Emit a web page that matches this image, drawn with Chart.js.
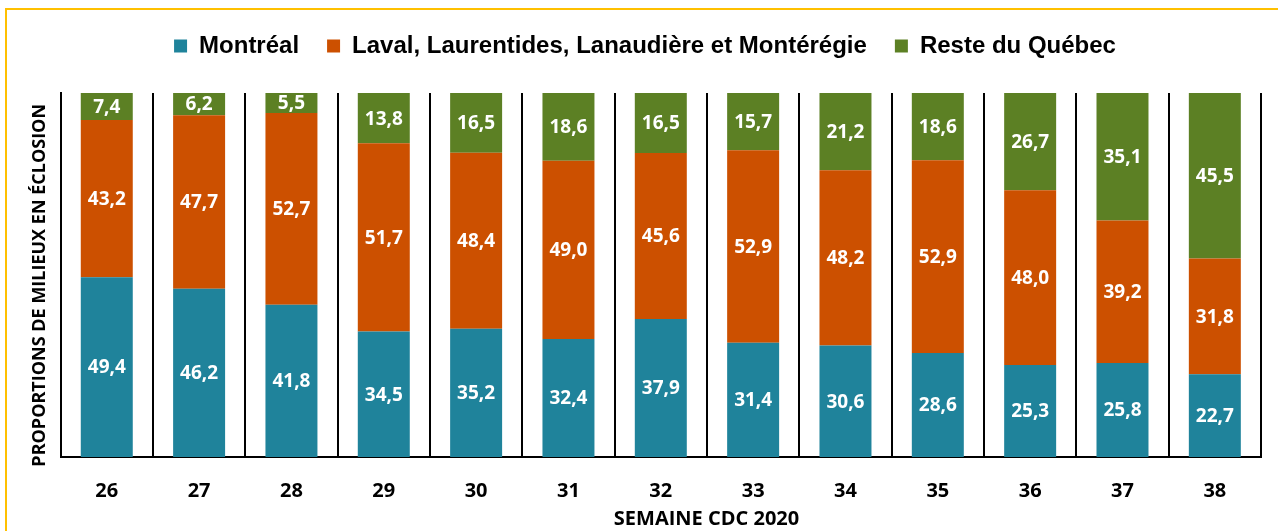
<!DOCTYPE html>
<html>
<head>
<meta charset="utf-8">
<script src="https://cdn.jsdelivr.net/npm/chart.js@4"></script>
<style>
  html, body { margin: 0; padding: 0; background: #fff; overflow: hidden; }
  #wrap { position: relative; width: 1278px; height: 531px; }
  #frame { position: absolute; left: 5px; top: 8px; width: 1400px; height: 700px;
           border: 2px solid #FFC000; pointer-events: none; }
</style>
</head>
<body>
<div id="wrap">
  <canvas id="chart" width="1278" height="531"></canvas>
  <div id="frame"></div>
</div>
<script>
var weeks = ["26", "27", "28", "29", "30", "31", "32", "33", "34", "35", "36", "37", "38"];
var montreal = [49.4, 46.2, 41.8, 34.5, 35.2, 32.4, 37.9, 31.4, 30.6, 28.6, 25.3, 25.8, 22.7];
var laval = [43.2, 47.7, 52.7, 51.7, 48.4, 49.0, 45.6, 52.9, 48.2, 52.9, 48.0, 39.2, 31.8];
var reste = [7.4, 6.2, 5.5, 13.8, 16.5, 18.6, 16.5, 15.7, 21.2, 18.6, 26.7, 35.1, 45.5];
var seriesNames = ["Montréal", "Laval, Laurentides, Lanaudière et Montérégie", "Reste du Québec"];
var seriesColors = ["#1F839B", "#CC5000", "#5C8024"];

// white numbers in the middle of every segment, comma decimal
var segmentLabels = {
    id: "segmentLabels",
    afterDatasetsDraw: function (chart) {
        var ctx = chart.ctx;
        ctx.save();
        ctx.fillStyle = "#fff";
        ctx.font = "bold 19px 'Open Sans'";
        ctx.textAlign = "center";
        ctx.textBaseline = "middle";
        chart.data.datasets.forEach(function (ds, d) {
            chart.getDatasetMeta(d).data.forEach(function (bar, i) {
                var txt = ds.data[i].toFixed(1).replace(".", ",");
                ctx.fillText(txt, bar.x, (bar.y + bar.base) / 2 + 1);
            });
        });
        ctx.restore();
    }
};

// give the legend a fixed height so the plot starts where it does in the original
var legendHeight = {
    id: "legendHeight",
    beforeInit: function (chart) {
        var fit = chart.legend.fit;
        chart.legend.fit = function () {
            fit.bind(chart.legend)();
            this.height = 87;
        };
    }
};

var datasets = [montreal, laval, reste].map(function (vals, k) {
    return {
        label: seriesNames[k],
        data: vals,
        backgroundColor: seriesColors[k],
        borderWidth: 0,
        barPercentage: 0.563,
        categoryPercentage: 1.0
    };
});

new Chart(document.getElementById("chart"), {
    type: "bar",
    data: { labels: weeks, datasets: datasets },
    plugins: [segmentLabels, legendHeight],
    options: {
        responsive: false,
        animation: false,
        layout: { padding: { top: 6, left: 29, right: 17, bottom: 0 } },
        plugins: {
            tooltip: { enabled: false },
            legend: {
                position: "top",
                labels: {
                    color: "#000",
                    boxWidth: 13,
                    boxHeight: 13,
                    padding: 28,
                    font: { family: "'Liberation Sans'", weight: "bold", size: 24 }
                }
            }
        },
        scales: {
            x: {
                stacked: true,
                offset: true,
                grid: {
                    display: true, offset: true, color: "#000", lineWidth: 2,
                    drawTicks: true, tickLength: 22, tickColor: "rgba(0,0,0,0)"
                },
                border: { display: true, color: "#000", width: 2 },
                ticks: {
                    color: "#000",
                    padding: 0,
                    font: { family: "'Open Sans'", weight: "bold", size: 20 }
                },
                title: {
                    display: true,
                    text: "\u2007\u2007\u2007\u2007\u2007\u2007\u2007\u2007SEMAINE CDC 2020",
                    color: "#000",
                    padding: { top: 4, bottom: 0 },
                    font: { family: "'Open Sans'", weight: "bold", size: 20 }
                }
            },
            y: {
                stacked: true,
                min: 0,
                max: 100,
                grid: { display: false, drawTicks: false },
                border: { display: true, color: "#000", width: 2 },
                ticks: { display: false },
                title: {
                    display: true,
                    text: "PROPORTIONS DE MILIEUX EN ÉCLOSION\u2007\u2007",
                    color: "#000",
                    padding: { top: 0, bottom: 10 },
                    font: { family: "'Open Sans'", weight: "bold", size: 18 }
                }
            }
        }
    }
});
</script>
</body>
</html>
